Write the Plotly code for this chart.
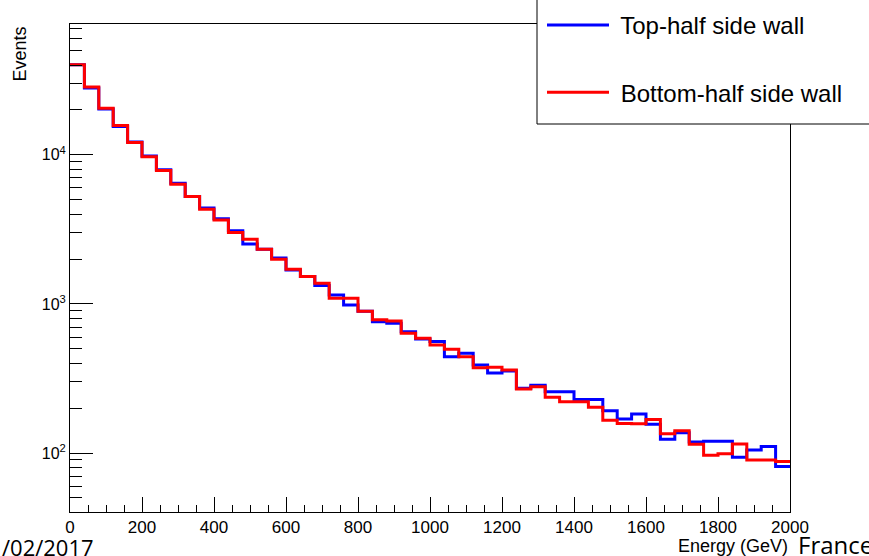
import plotly.graph_objects as go

# Bin edges: 50 bins of 40 GeV from 0 to 2000
bin_width = 40
n_bins = 50
edges = [i * bin_width for i in range(n_bins + 1)]

top_half = [40200, 28100, 20300, 15500, 12200, 9800, 7950, 6450, 5250, 4400,
            3730, 3090, 2520, 2330, 2030, 1690, 1525, 1330, 1148, 985,
            895, 760, 742, 652, 582, 559, 443, 467, 390, 344,
            355, 272, 285, 258, 258, 229, 229, 192, 169, 183,
            156, 124, 137, 118.5, 120, 120, 93.6, 104.7, 110.5, 81.2]

bottom_half = [40200, 28500, 20500, 15700, 12100, 9700, 7850, 6350, 5250, 4320,
               3660, 3010, 2720, 2330, 1995, 1710, 1525, 1376, 1092, 1092,
               895, 782, 769, 635, 589, 531, 497, 443, 374, 376,
               361, 269, 279, 237, 221, 221, 203, 166, 158, 157,
               168, 135, 141, 114.5, 96.6, 98.9, 115, 89.8, 89.8, 87.7]

series_names = ["Top-half side wall", "Bottom-half side wall"]
series_colors = ["#0000ff", "#ff0000"]

y_tickvals = [100, 1000, 10000]
y_ticktext = ["10<sup>2</sup>", "10<sup>3</sup>", "10<sup>4</sup>"]
x_tickvals = [0, 200, 400, 600, 800, 1000, 1200, 1400, 1600, 1800, 2000]

FONT = "Liberation Sans, Arial, Helvetica, sans-serif"

fig = go.Figure()
for name, vals, col, grp in zip(series_names, [top_half, bottom_half], series_colors, ["a", "b"]):
    fig.add_trace(go.Scatter(
        x=edges, y=vals + [vals[-1]], mode="lines", name=" " + name,
        line=dict(color=col, width=3, shape="hv"), legendgroup=grp,
    ))

W, H = 869, 556
L, R, T, B = 70, 79, 24, 44
pw, ph = W - L - R, H - T - B

def px(xp):
    return (xp - L) / pw

def py(yp):
    return (H - B - yp) / ph

fig.update_layout(
    width=W, height=H,
    margin=dict(l=L, r=R, t=T, b=B, autoexpand=False),
    plot_bgcolor="white", paper_bgcolor="white",
    font=dict(family=FONT, color="black"),
    showlegend=True,
    legend=dict(
        x=px(542), xanchor="left", y=py(3), yanchor="top",
        bgcolor="rgba(0,0,0,0)", borderwidth=0,
        font=dict(family=FONT, size=24, color="black"),
        tracegroupgap=33, itemwidth=62, traceorder="grouped",
    ),
    shapes=[
        dict(type="rect", xref="paper", yref="paper", layer="above",
             x0=px(537), x1=px(900), y0=py(124), y1=py(-10),
             fillcolor="white", line=dict(color="black", width=1)),
    ],
    xaxis=dict(
        range=[0, 2000], showgrid=False, zeroline=False,
        showline=True, linecolor="black", linewidth=1, mirror=True,
        ticks="inside", ticklen=15, tickcolor="black", tickwidth=1,
        tickvals=x_tickvals, tickfont=dict(size=17, family=FONT),
        minor=dict(ticks="inside", ticklen=7, tickcolor="black", dtick=50, showgrid=False),
    ),
    yaxis=dict(
        type="log", range=[1.605, 4.877], showgrid=False, zeroline=False,
        showline=True, linecolor="black", linewidth=1, mirror=True,
        ticks="inside", ticklen=23, tickcolor="black", tickwidth=1,
        tickvals=y_tickvals, ticktext=y_ticktext, tickfont=dict(size=16, family=FONT),
        minor=dict(ticks="inside", ticklen=12, tickcolor="black", dtick="D1", showgrid=False),
    ),
    annotations=[
        dict(text="Events", textangle=-90, xref="paper", yref="paper",
             x=px(20), y=py(25), xanchor="center", yanchor="top", showarrow=False,
             font=dict(size=18, family=FONT)),
        dict(text="Energy (GeV)", xref="paper", yref="paper",
             x=1, y=py(546), xanchor="right", yanchor="middle", showarrow=False,
             font=dict(size=18, family=FONT)),
        dict(text="/02/2017", xref="paper", yref="paper",
             x=px(0), y=py(547), xanchor="left", yanchor="middle", showarrow=False,
             font=dict(size=22, family="Open Sans, sans-serif")),
        dict(text="France", xref="paper", yref="paper",
             x=px(796), y=py(544), xanchor="left", yanchor="middle", showarrow=False,
             font=dict(size=24, family="Open Sans, sans-serif")),
    ],
)

fig.write_html("out.html")
